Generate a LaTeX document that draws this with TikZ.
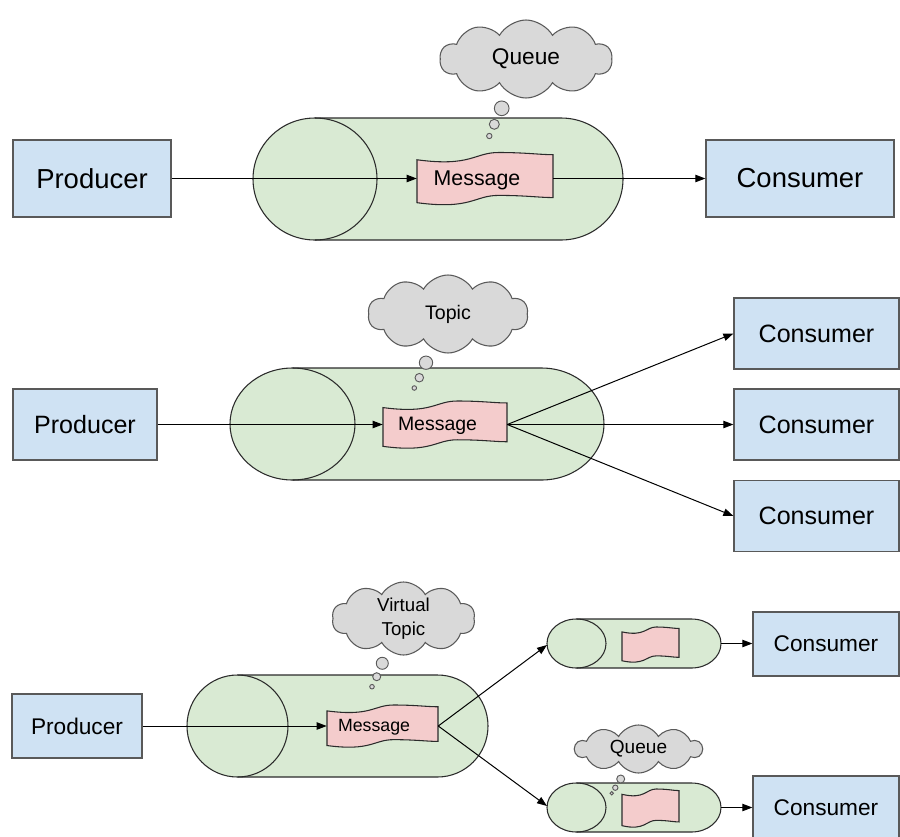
\documentclass[tikz,border=0pt]{standalone}
\usepackage{fontspec}
\setmainfont{Liberation Sans}
\usetikzlibrary{shapes.symbols,arrows.meta}
\definecolor{boxblue}{HTML}{CFE2F3}
\definecolor{boxline}{HTML}{595959}
\definecolor{cylfill}{HTML}{D9EAD3}
\definecolor{cylline}{HTML}{2B2B2B}
\definecolor{tapefill}{HTML}{F4CCCC}
\definecolor{cloudfill}{HTML}{D9D9D9}
\definecolor{cloudline}{HTML}{5A5A5A}
\newcommand\fs[2]{\fontsize{#1pt}{#2pt}\selectfont}
\tikzset{
  box/.style={draw=boxline, fill=boxblue, line width=0.9pt, inner sep=0pt},
  cylline/.style={draw=cylline, line width=0.8pt},
  tapeshape/.style={fill=tapefill, draw=cylline, line width=0.8pt},
  thought/.style={cloud, cloud puffs=10, cloud puff arc=120, cloud ignores aspect,
    draw=cloudline, fill=cloudfill, line width=0.8pt, inner sep=0pt, align=center},
  bubble/.style={draw=cloudline, fill=cloudfill, line width=0.7pt},
  conn/.style={line width=0.75pt, -{Triangle[length=7.5pt,width=5.5pt]}},
}
% horizontal cylinder: cx left, cx right, cy, rx, ry (pixels)
\newcommand\cylpx[5]{%
  \fill[cylfill] (#1,#3-#5) -- (#2,#3-#5)
    arc[start angle=90,end angle=-90,x radius=#4*0.75pt,y radius=#5*0.75pt]
    -- (#1,#3+#5)
    arc[start angle=270,end angle=90,x radius=#4*0.75pt,y radius=#5*0.75pt] -- cycle;
  \draw[cylline] (#1,#3-#5) -- (#2,#3-#5)
    arc[start angle=90,end angle=-90,x radius=#4*0.75pt,y radius=#5*0.75pt]
    -- (#1,#3+#5);
  \draw[cylline] (#1,#3) ellipse[x radius=#4*0.75pt,y radius=#5*0.75pt];
}
% tape (message) shape + named node: name, cx, cy, w, h (pixels)
\newcommand\msgpx[5]{%
  \pgfmathsetmacro\tx{#2-#4/2}\pgfmathsetmacro\ty{#3-#5/2}%
  \pgfmathsetmacro\tw{#4}\pgfmathsetmacro\ta{0.14*#5}\pgfmathsetmacro\tl{#5-1.25*\ta}%
  \pgfmathsetmacro\mw{#4*0.75}\pgfmathsetmacro\mh{#5*0.75}%
  \filldraw[tapeshape] (\tx,\ty+\ta)
    .. controls (\tx+0.4*\tw,\ty+2*\ta) and (\tx+0.42*\tw,\ty) .. (\tx+0.6*\tw,\ty)
    .. controls (\tx+0.8*\tw,\ty) and (\tx+0.9*\tw,\ty+0.3*\ta) .. (\tx+\tw,\ty+0.3*\ta)
    -- (\tx+\tw,\ty+0.3*\ta+\tl)
    .. controls (\tx+0.9*\tw,\ty+0.3*\ta+\tl) and (\tx+0.8*\tw,\ty+\tl) .. (\tx+0.6*\tw,\ty+\tl)
    .. controls (\tx+0.42*\tw,\ty+\tl) and (\tx+0.4*\tw,\ty+2*\ta+\tl) .. (\tx,\ty+\ta+\tl)
    -- cycle;
  \node[minimum width=\mw pt, minimum height=\mh pt, inner sep=0pt] (#1) at (#2,#3) {};
}
\begin{document}
\begin{tikzpicture}[x=0.75pt,y=-0.75pt]
\useasboundingbox (0,0) rectangle (900,836);

% ---------- cylinders ----------
\cylpx{315}{561}{179}{62}{61}
\cylpx{292.5}{541.5}{424}{62.5}{56}
\cylpx{237.5}{437.5}{726}{50.5}{51}
\cylpx{576.5}{691.5}{643.5}{29.5}{24.5}
\cylpx{576.5}{691.5}{807.5}{29.5}{24.5}

% ---------- boxes ----------
\node[box, minimum width=118.5pt, minimum height=57.75pt, font=\fs{20.6}{24}] (p1) at (92,178.5) {Producer};
\node[box, minimum width=141pt, minimum height=57.75pt, font=\fs{20.6}{24}] (c1) at (800,178.5) {Consumer};
\node[box, minimum width=108pt, minimum height=53.25pt, font=\fs{18.8}{22}] (p2) at (85,424.5) {Producer};
\node[box, minimum width=123.75pt, minimum height=53.25pt, font=\fs{18.8}{22}] (c21) at (816.5,333.5) {Consumer};
\node[box, minimum width=123.75pt, minimum height=53.25pt, font=\fs{18.8}{22}] (c22) at (816.5,424.5) {Consumer};
\node[box, minimum width=123.75pt, minimum height=53.25pt, font=\fs{18.8}{22}] (c23) at (816.5,516) {Consumer};
\node[box, minimum width=97.5pt, minimum height=48pt, font=\fs{17}{20}] (p3) at (77,726) {Producer};
\node[box, minimum width=109.5pt, minimum height=48pt, font=\fs{17}{20}] (c31) at (826,644) {Consumer};
\node[box, minimum width=109.5pt, minimum height=48pt, font=\fs{17}{20}] (c32) at (826,808) {Consumer};

% ---------- messages ----------
\msgpx{m1}{485}{178.5}{136}{52}
\msgpx{m2}{445}{424.5}{124}{47}
\msgpx{m3}{382.5}{726}{111}{42}
\msgpx{ms1}{650.5}{644.5}{57}{35}
\msgpx{ms2}{650.5}{808}{57}{38}
\node[font=\fs{16}{19}] (m1t) at (477,180) {Message};
\node[font=\fs{14.6}{17}] (m2t) at (437.5,426) {Message};
\node[font=\fs{13.3}{16}] (m3t) at (374,727) {Message};

% ---------- connectors ----------
\coordinate (s1in) at (547,645);
\coordinate (s1out) at (721,643.5);
\coordinate (s2in) at (547,806);
\coordinate (s2out) at (721,807.5);
\draw[conn] (p1.east) -- (m1.west);
\draw[conn] (m1.east) -- (c1.west);
\draw[conn] (p2.east) -- (m2.west);
\draw[conn] (m2.east) -- (c21.west);
\draw[conn] (m2.east) -- (c22.west);
\draw[conn] (m2.east) -- (c23.west);
\draw[conn] (p3.east) -- (m3.west);
\draw[conn] (m3.east) -- (s1in);
\draw[conn] (m3.east) -- (s2in);
\draw[conn] (s1out) -- (s1out -| c31.west);
\draw[conn] (s2out) -- (s2out -| c32.west);

% ---------- thought bubbles ----------
\draw[bubble] (501.7,108.3) circle[radius=5.5pt];
\draw[bubble] (494.3,124.3) circle[radius=3.75pt];
\draw[bubble] (489.3,136) circle[radius=2pt];
\draw[bubble] (426,362.7) circle[radius=5pt];
\draw[bubble] (419.3,377.7) circle[radius=3.2pt];
\draw[bubble] (414.3,388) circle[radius=1.7pt];
\draw[bubble] (382.3,663.3) circle[radius=4.5pt];
\draw[bubble] (376.7,676.7) circle[radius=3pt];
\draw[bubble] (372,686.7) circle[radius=1.7pt];
\draw[bubble] (620.7,779) circle[radius=3pt];
\draw[bubble] (615.3,787.7) circle[radius=2pt];
\draw[bubble] (611.7,793.3) circle[radius=1.3pt];

\node[thought, minimum width=129pt, minimum height=58.5pt, font=\fs{17}{20}] (q1) at (526,59) {Queue};
\node[thought, minimum width=120pt, minimum height=58.5pt, font=\fs{14.7}{18}] (t2) at (448,314) {Topic};
\node[thought, minimum width=107.25pt, minimum height=54.75pt, font=\fs{14}{18}] (vt3) at (403.5,618.5) {Virtual\\Topic};
\node[thought, minimum width=95.25pt, minimum height=36pt, font=\fs{14.3}{17}] (qs) at (638.5,749) {Queue};
\end{tikzpicture}
\end{document}
